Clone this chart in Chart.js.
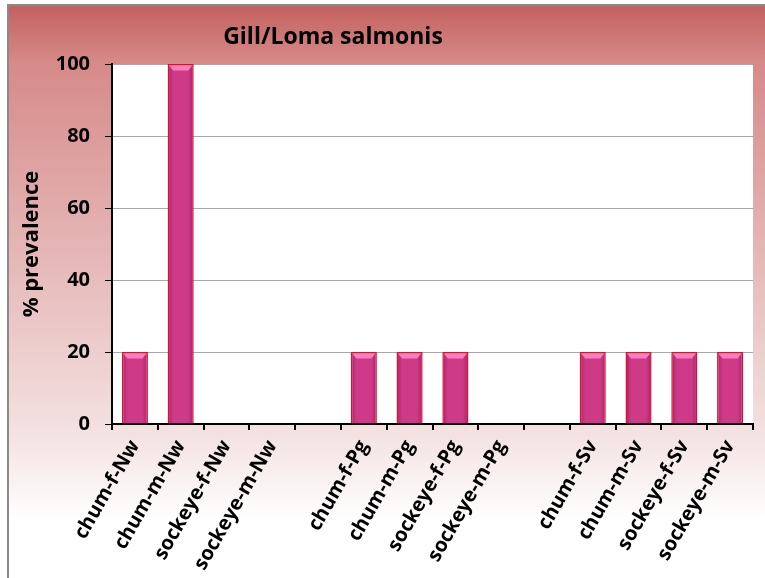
<!DOCTYPE html>
<html>
<head>
<meta charset="utf-8">
<script src="https://cdn.jsdelivr.net/npm/chart.js@4/dist/chart.umd.min.js"></script>
<style>
html,body{margin:0;padding:0;background:#fff;}
#wrap{width:765px;height:578px;position:relative;}
</style>
</head>
<body>
<div id="wrap"><canvas id="c" width="765" height="578"></canvas></div>
<script>
const chartTitle = 'Gill/Loma salmonis';
const yAxisTitle = '% prevalence';
const categories = ['chum-f-Nw','chum-m-Nw','sockeye-f-Nw','sockeye-m-Nw','',
                    'chum-f-Pg','chum-m-Pg','sockeye-f-Pg','sockeye-m-Pg','',
                    'chum-f-Sv','chum-m-Sv','sockeye-f-Sv','sockeye-m-Sv'];
const prevalence = [20,100,0,0,null,20,20,20,0,null,20,20,20,20];
const yTicks = [0,20,40,60,80,100];
const FONT = '"Open Sans", Lato, sans-serif';

const bgPlugin = {
  id:'bgPlugin',
  beforeDraw(chart){
    const ctx = chart.ctx;
    const g = ctx.createLinearGradient(0,5,0,578);
    g.addColorStop(0,'#C3605E');
    g.addColorStop(0.1,'#D68A89');
    g.addColorStop(0.35,'#E2ABAB');
    g.addColorStop(0.6,'#EDCDCD');
    g.addColorStop(0.75,'#F4E2E2');
    g.addColorStop(0.9,'#FFFFFF');
    ctx.save();
    ctx.fillStyle = '#fff';
    ctx.fillRect(0,0,chart.width,chart.height);
    ctx.fillStyle = g;
    ctx.fillRect(8,5,chart.width-8,chart.height-5);
    ctx.strokeStyle = '#8a8a8a';
    ctx.lineWidth = 2;
    ctx.beginPath();
    ctx.moveTo(8,chart.height);
    ctx.lineTo(8,5);
    ctx.lineTo(chart.width,5);
    ctx.stroke();
    const a = chart.chartArea;
    ctx.fillStyle = '#fff';
    ctx.fillRect(a.left,a.top,a.right-a.left,a.bottom-a.top);
    ctx.restore();
  },
  afterDraw(chart){
    const ctx = chart.ctx;
    ctx.save();
    ctx.font = 'bold 23px ' + FONT;
    ctx.fillStyle = '#000';
    ctx.textAlign = 'center';
    ctx.textBaseline = 'alphabetic';
    ctx.fillText(chartTitle, 333, 44);
    ctx.restore();
  },
  afterDatasetsDraw(chart){
    const ctx = chart.ctx;
    const meta = chart.getDatasetMeta(0);
    ctx.save();
    meta.data.forEach((bar,i)=>{
      if (prevalence[i] == null || prevalence[i] === 0) return;
      const p = bar.getProps(['x','y','base','width'],true);
      const l = p.x - p.width/2 + 1.5, r = p.x + p.width/2 - 1.5;
      const t = p.y + 1.5, b = p.base;
      const hg = ctx.createLinearGradient(l,0,r,0);
      hg.addColorStop(0,'rgba(120,10,60,0.35)');
      hg.addColorStop(0.18,'rgba(120,10,60,0)');
      hg.addColorStop(0.82,'rgba(120,10,60,0)');
      hg.addColorStop(1,'rgba(120,10,60,0.35)');
      ctx.fillStyle = hg;
      ctx.fillRect(l,t,r-l,b-t);
      ctx.fillStyle = 'rgba(255,140,200,0.85)';
      ctx.beginPath();
      ctx.moveTo(l,t);
      ctx.lineTo(r,t);
      ctx.lineTo(r-4,t+5);
      ctx.lineTo(l+4,t+5);
      ctx.closePath();
      ctx.fill();
    });
    ctx.restore();
  }
};

new Chart(document.getElementById('c'),{
  type:'bar',
  data:{
    labels:categories,
    datasets:[{
      data:prevalence,
      backgroundColor:'#CF3A88',
      borderColor:'#E0102C',
      borderWidth:1.5,
      borderSkipped:'bottom',
      barPercentage:0.57,
      categoryPercentage:1.0
    }]
  },
  options:{
    responsive:false,
    animation:false,
    devicePixelRatio:1,
    layout:{padding:{left:15,top:64,right:12,bottom:0}},
    plugins:{legend:{display:false},tooltip:{enabled:false},title:{display:false}},
    scales:{
      x:{
        offset:true,
        grid:{display:true,drawOnChartArea:false,drawTicks:true,tickLength:6,tickColor:'#000',offset:true,lineWidth:2},
        border:{display:true,color:'#000',width:2},
        ticks:{
          color:'#000',
          font:{family:FONT,size:20,weight:'bold'},
          maxRotation:60,minRotation:60,autoSkip:false,padding:6
        },
        afterFit(s){ s.height = 154; }
      },
      y:{
        min:0,max:100,
        afterBuildTicks(s){ s.ticks = yTicks.map(v=>({value:v})); },
        grid:{color:'#a8a8a8',lineWidth:1,tickColor:'#000',tickLength:7,drawTicks:true},
        border:{display:true,color:'#000',width:2},
        ticks:{
          color:'#000',padding:15,
          font:{family:FONT,size:20,weight:'bold'}
        },
        title:{display:true,text:yAxisTitle,color:'#000',
          font:{family:FONT,size:22,weight:'bold'},padding:{top:4,bottom:4}},
        afterFit(s){ s.width = 97; }
      }
    }
  },
  plugins:[bgPlugin]
});
</script>
</body>
</html>
